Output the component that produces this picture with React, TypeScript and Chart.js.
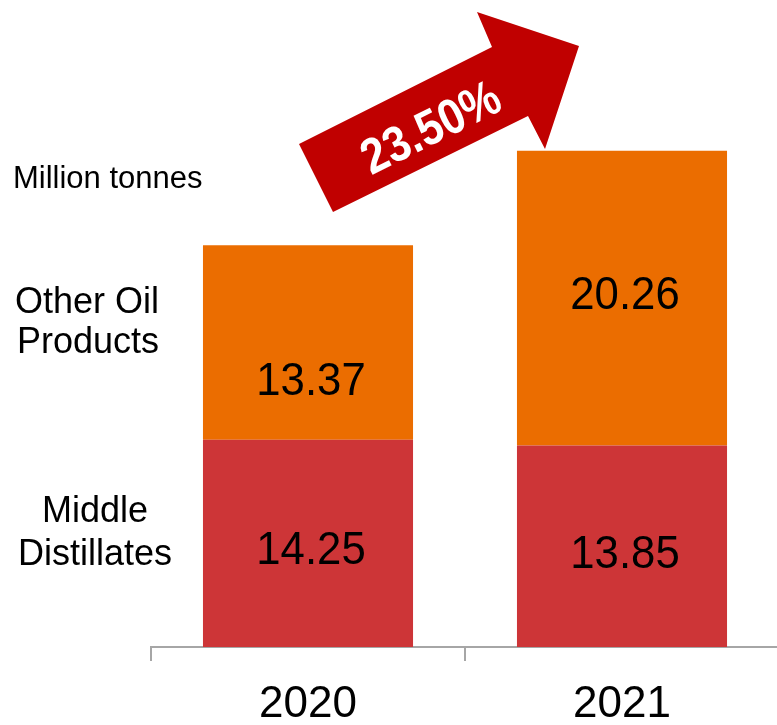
import React, { useEffect, useRef } from "react";
import { Chart, registerables } from "chart.js";

Chart.register(...registerables);

// ---- data ----
const categories = ["2020", "2021"];
const middleDistillates = [14.25, 13.85];
const otherOilProducts = [13.37, 20.26];
const seriesNames = ["Middle Distillates", "Other Oil Products"];
const growthLabel = "23.50%";
const unitLabel = "Million tonnes";

// ---- styles ----
const FONT = "'Liberation Sans', Arial, Helvetica, sans-serif";
const RED = "#CD3537";
const ORANGE = "#EB6D00";
const ARROW_RED = "#C00000";
const AXIS_GREY = "#A6A6A6";
const W = 790;
const H = 725;

// label vertical nudges (px) relative to segment centre: [dataset][category]
const LABEL_NUDGE = [
  [8, 9],
  [40, -2],
];

const annotations = {
  id: "annotations",
  afterDatasetsDraw(chart: any) {
    const ctx = chart.ctx;
    ctx.save();
    ctx.fillStyle = "#000";
    ctx.font = `47px ${FONT}`;
    ctx.textAlign = "center";
    ctx.textBaseline = "middle";
    chart.data.datasets.forEach((ds: any, di: number) => {
      const meta = chart.getDatasetMeta(di);
      meta.data.forEach((bar: any, i: number) => {
        const p = bar.getProps(["x", "y", "base"], true);
        const cy = (p.y + p.base) / 2 + LABEL_NUDGE[di][i];
        ctx.save();
        ctx.translate(p.x + 3, cy);
        ctx.scale(0.93, 1);
        ctx.fillText(ds.data[i].toFixed(2), 0, 0);
        ctx.restore();
      });
    });
    ctx.restore();
  },
  afterDraw(chart: any) {
    const ctx = chart.ctx;
    ctx.save();
    // left side labels
    ctx.fillStyle = "#000";
    ctx.textBaseline = "alphabetic";
    ctx.font = `31px ${FONT}`;
    ctx.textAlign = "left";
    ctx.fillText(unitLabel, 13, 188);

    ctx.font = `36px ${FONT}`;
    ctx.textAlign = "center";
    const oop = seriesNames[1].split(" ");
    ctx.fillText(oop.slice(0, 2).join(" "), 87, 313);
    ctx.fillText(oop.slice(2).join(" "), 88, 353);
    const md = seriesNames[0].split(" ");
    ctx.fillText(md[0], 95, 522);
    ctx.fillText(md[1], 95, 565);

    // growth arrow
    const pts = [
      [333, 212],
      [299, 144],
      [492, 47],
      [477, 12],
      [579, 46],
      [545, 149],
      [528, 116],
    ];
    ctx.beginPath();
    pts.forEach(([x, y], i) => (i === 0 ? ctx.moveTo(x, y) : ctx.lineTo(x, y)));
    ctx.closePath();
    ctx.fillStyle = ARROW_RED;
    ctx.fill();

    ctx.translate(431, 128);
    ctx.rotate((-26.5 * Math.PI) / 180);
    ctx.scale(0.88, 1);
    ctx.fillStyle = "#FFFFFF";
    ctx.font = `bold 50px ${FONT}`;
    ctx.textAlign = "center";
    ctx.textBaseline = "middle";
    ctx.fillText(growthLabel, 0, 2);
    ctx.restore();
  },
};

export default function App() {
  const ref = useRef<HTMLCanvasElement | null>(null);

  useEffect(() => {
    if (!ref.current) return;
    const chart = new Chart(ref.current, {
      type: "bar",
      data: {
        labels: categories,
        datasets: [
          {
            label: seriesNames[0],
            data: middleDistillates,
            backgroundColor: RED,
            borderWidth: 0,
            barPercentage: 0.669,
            categoryPercentage: 1,
          },
          {
            label: seriesNames[1],
            data: otherOilProducts,
            backgroundColor: ORANGE,
            borderWidth: 0,
            barPercentage: 0.669,
            categoryPercentage: 1,
          },
        ],
      },
      options: {
        responsive: false,
        animation: false,
        devicePixelRatio: 1,
        layout: { padding: { left: 151, right: W - 779, top: 65, bottom: 0 } },
        plugins: {
          legend: { display: false },
          tooltip: { enabled: false },
          title: { display: false },
        },
        scales: {
          x: {
            stacked: true,
            grid: {
              display: true,
              drawOnChartArea: false,
              drawTicks: true,
              tickLength: 14,
              color: AXIS_GREY,
              lineWidth: 2,
              offset: true,
            },
            border: { display: true, color: AXIS_GREY, width: 2 },
            ticks: {
              color: "#000",
              font: { family: FONT, size: 44 },
              padding: 17,
              maxRotation: 0,
            },
            afterFit(scale: any) {
              scale.height = H - 647;
            },
          },
          y: {
            stacked: true,
            display: false,
            min: 0,
            max: 40,
          },
        },
      },
      plugins: [annotations],
    });
    return () => chart.destroy();
  }, []);

  return (
    <div
      style={{
        position: "absolute",
        left: 0,
        top: 0,
        width: 777,
        height: 725,
        overflow: "hidden",
        background: "#fff",
      }}
    >
      <canvas ref={ref} width={W} height={H} style={{ display: "block" }} />
    </div>
  );
}
